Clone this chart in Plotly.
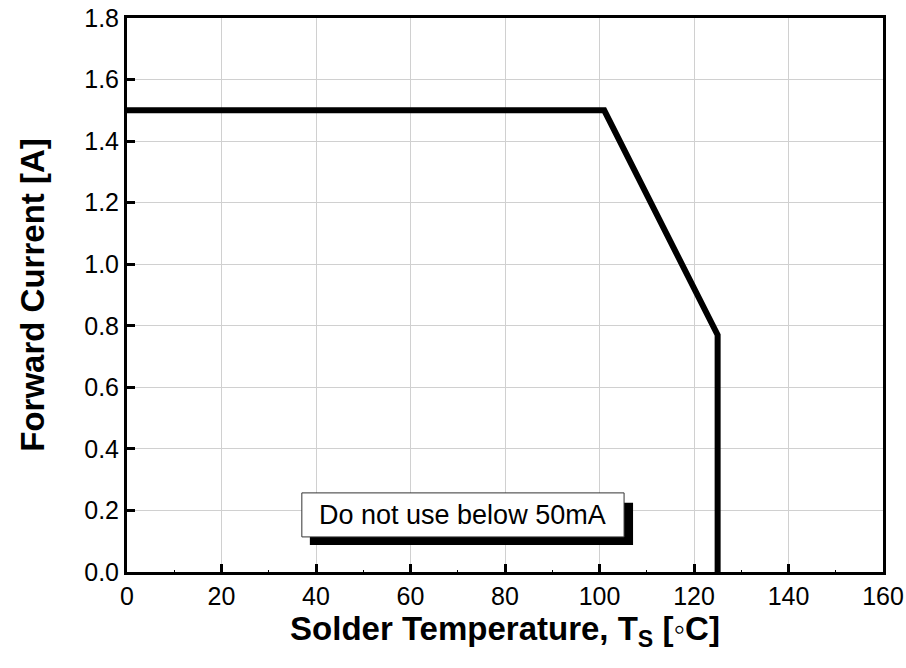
import plotly.graph_objects as go

# Data
temp_c = [0, 101, 125, 125]
forward_current_a = [1.5, 1.5, 0.77, 0.0]
x_ticks = [0, 20, 40, 60, 80, 100, 120, 140, 160]
y_ticks = [0.0, 0.2, 0.4, 0.6, 0.8, 1.0, 1.2, 1.4, 1.6, 1.8]
y_tick_labels = [f"{v:.1f}" for v in y_ticks]
note_text = "Do not use below 50mA"

font = "Liberation Sans, Arial, sans-serif"

fig = go.Figure()
fig.add_trace(go.Scatter(x=temp_c, y=forward_current_a, mode="lines",
                         line=dict(color="black", width=6), showlegend=False,
                         hoverinfo="skip"))

# note box with shadow
fig.add_shape(type="rect", x0=38.7, x1=107.1, y0=0.088, y1=0.225,
              fillcolor="black", line=dict(width=0), layer="above")
fig.add_shape(type="rect", x0=37.0, x1=105.2, y0=0.114, y1=0.257,
              fillcolor="white", line=dict(color="#333", width=1), layer="above")
fig.add_annotation(x=71.1, y=0.1855, text=note_text, showarrow=False,
                   font=dict(family=font, size=27, color="black"))

fig.update_xaxes(range=[0, 160], tickvals=x_ticks, ticktext=[str(v) for v in x_ticks],
                 ticks="inside", ticklen=8, tickwidth=3, tickcolor="black",
                 minor=dict(dtick=10, ticks="inside", ticklen=2, tickwidth=1, tickcolor="black", showgrid=False),
                 showgrid=True, gridcolor="#d0d0d0", gridwidth=1,
                 showline=True, linecolor="black", linewidth=3, mirror=True,
                 zeroline=False, automargin=False,
                 tickfont=dict(family=font, size=25, color="black"),
                 title=dict(text="<b>Solder Temperature, T<sub>S</sub> [◦C]</b>",
                            font=dict(family=font, size=33, color="black"), standoff=8))
fig.update_yaxes(range=[0, 1.8], tickvals=y_ticks, ticktext=y_tick_labels,
                 ticks="inside", ticklen=8, tickwidth=3, tickcolor="black",
                 showgrid=True, gridcolor="#d0d0d0", gridwidth=1,
                 showline=True, linecolor="black", linewidth=3, mirror=True,
                 zeroline=False, automargin=False,
                 tickfont=dict(family=font, size=25, color="black"),
                 title=dict(text="<b>Forward Current [A]</b>",
                            font=dict(family=font, size=33, color="black"), standoff=30))

fig.update_layout(width=906, height=668, margin=dict(l=127, r=23, t=18, b=96),
                  plot_bgcolor="white", paper_bgcolor="white")

fig.write_html("out.html")
